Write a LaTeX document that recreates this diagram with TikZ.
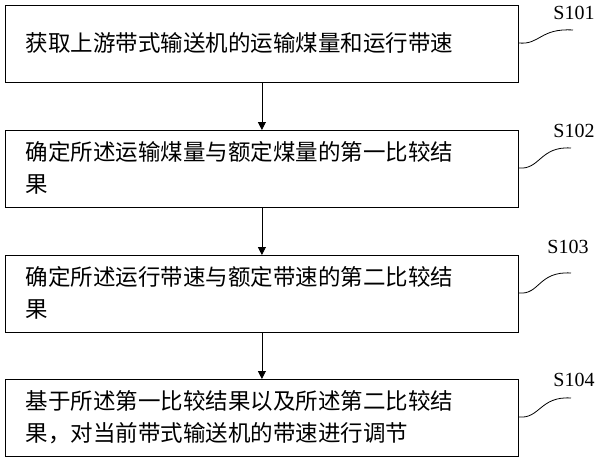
\documentclass[tikz,border=0pt]{standalone}
\usepackage{fontspec}
\newfontfamily\cjk{Noto Sans CJK SC}
\setmainfont{Liberation Serif}
\usetikzlibrary{arrows.meta}
\tikzset{
  stepbox/.style={draw, thick, minimum width=513pt, minimum height=77pt, anchor=north west, inner sep=0pt},
  steptext/.style={anchor=west, align=left, text width=495pt, font=\cjk\fontsize{22.5}{32}\selectfont},
  steplabel/.style={font=\fontsize{20}{20}\selectfont},
}
\begin{document}
\begin{tikzpicture}[x=1pt, y=-1pt]
    \useasboundingbox (0,0) rectangle (600,463);
    % Boxes
    \node[stepbox] (b1) at (5,5) {};
    \node[stepbox] (b2) at (5,130) {};
    \node[stepbox] (b3) at (5,255) {};
    \node[stepbox] (b4) at (5,379) {};

    % Texts
    \node[steptext] (t1) at (22,43) {获取上游带式输送机的运输煤量和运行带速};
    \node[steptext] (t2) at (22,168) {确定所述运输煤量与额定煤量的第一比较结\\果};
    \node[steptext] (t3) at (22,293) {确定所述运行带速与额定带速的第二比较结\\果};
    \node[steptext] (t4) at (22,417) {基于所述第一比较结果以及所述第二比较结\\果，对当前带式输送机的带速进行调节};

    % Arrows
    \foreach \a/\b in {b1/b2, b2/b3, b3/b4}
        \draw[thick, -{Triangle[length=8pt, width=8pt]}] (\a.south) -- (\b.north);

    % Labels
    \node[steplabel] (s1) at (574,13) {S101};
    \node[steplabel] (s2) at (574,131) {S102};
    \node[steplabel] (s3) at (568,247) {S103};
    \node[steplabel] (s4) at (574,380) {S104};
    \coordinate (e1) at (573,30);
    \coordinate (e2) at (571,148);
    \coordinate (e3) at (571,273);
    \coordinate (e4) at (571,398);

    % Wavy leaders
    \draw[thick] (b1.east |- 0,43) .. controls (540,45) and (540,28) .. (e1);
    \draw[thick] (b2.east |- 0,168) .. controls (540,170) and (540,146) .. (e2);
    \draw[thick] (b3.east |- 0,293) .. controls (540,295) and (538,271) .. (e3);
    \draw[thick] (b4.east |- 0,417) .. controls (540,419) and (540,396) .. (e4);
\end{tikzpicture}
\end{document}
